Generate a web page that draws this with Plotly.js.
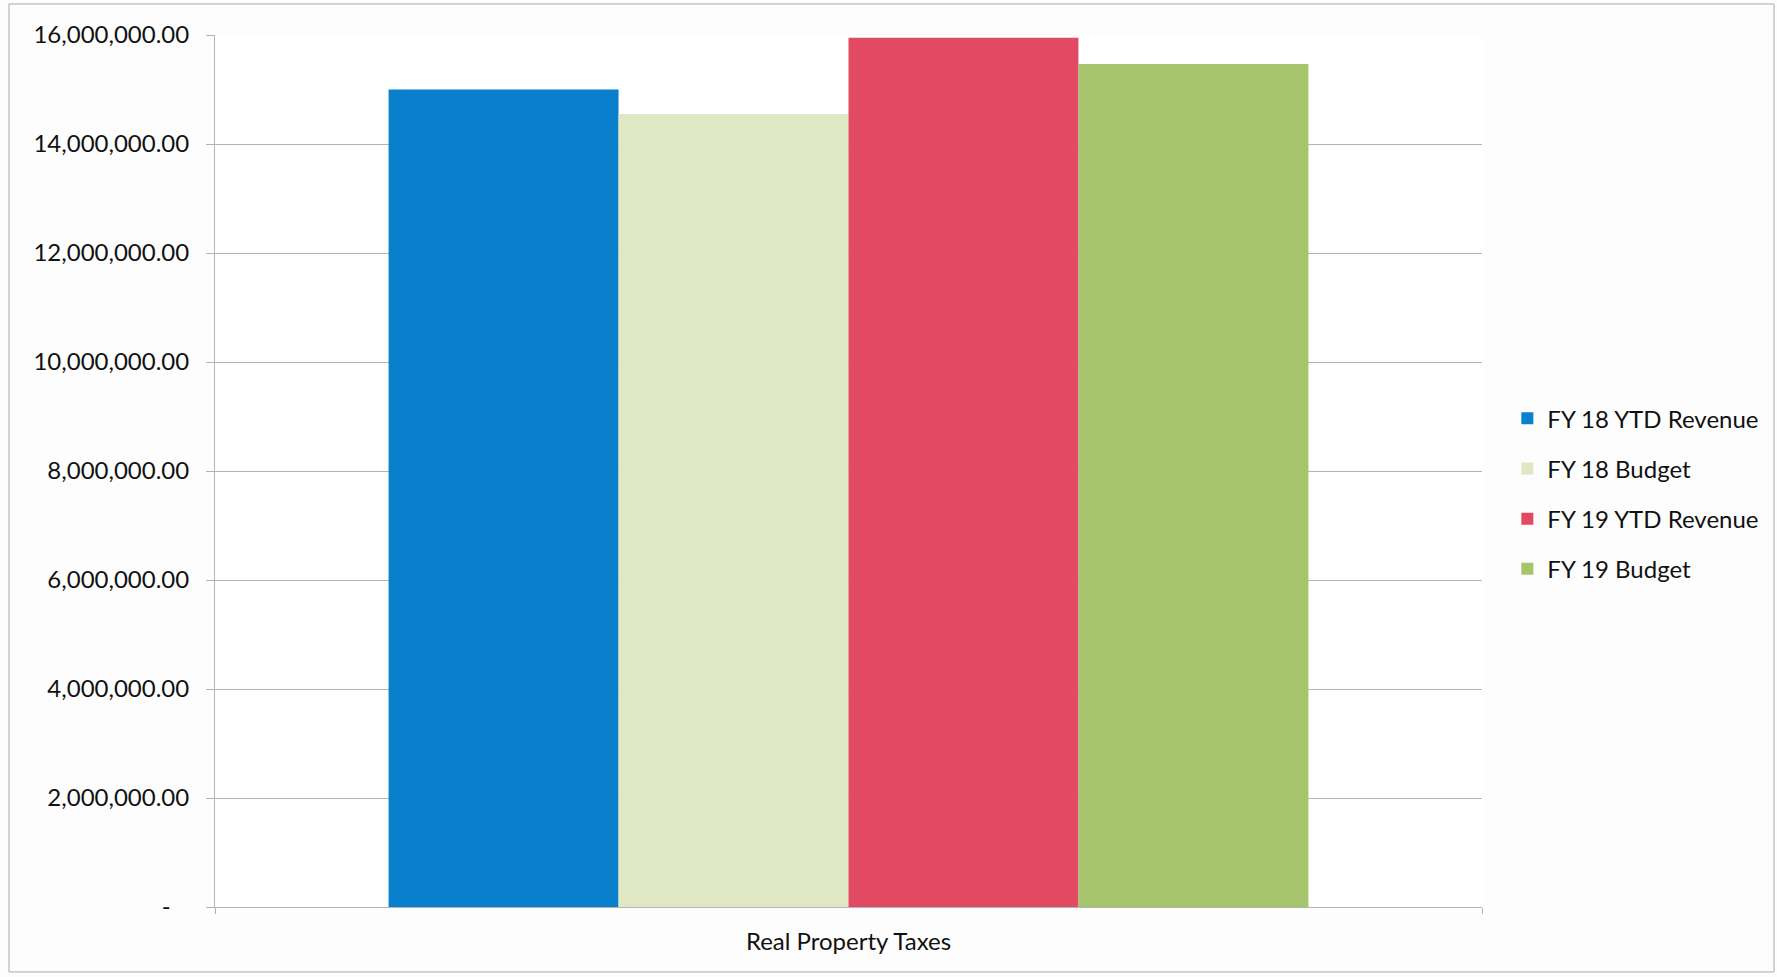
<!DOCTYPE html>
<html>
<head>
<meta charset="utf-8">
<script src="https://cdn.plot.ly/plotly-3.0.1.min.js"></script>
<style>
  html, body { margin: 0; padding: 0; background: #ffffff; }
  #chart { width: 1777px; height: 977px; }
</style>
</head>
<body>
<div id="chart"></div>
<script>
// Revenue category
const categories = ["Real Property Taxes"];

// Series names and values
const seriesNames = ["FY 18 YTD Revenue", "FY 18 Budget", "FY 19 YTD Revenue", "FY 19 Budget"];
const fy18Revenue = [15000000];
const fy18Budget = [14550000];
const fy19Revenue = [15950000];
const fy19Budget = [15470000];
const seriesColors = ["#0a7fcc", "#dfe7c3", "#e14a62", "#a6c46b"];

// Y axis ticks (accounting style, zero shown as a dash)
const yTickVals = [0, 2000000, 4000000, 6000000, 8000000, 10000000, 12000000, 14000000, 16000000];
const yTickText = ["-\u00a0\u00a0\u00a0", "2,000,000.00", "4,000,000.00", "6,000,000.00", "8,000,000.00",
                   "10,000,000.00", "12,000,000.00", "14,000,000.00", "16,000,000.00"];

const seriesValues = [fy18Revenue, fy18Budget, fy19Revenue, fy19Budget];

const font = { family: "Lato, 'Open Sans', sans-serif", size: 24, color: "#111111" };
const gridColor = "#b4b4b4";

const traces = seriesNames.map((name, i) => ({
  type: "bar",
  name: name,
  x: categories,
  y: seriesValues[i],
  legendgroup: "g" + i,
  marker: { color: seriesColors[i], line: { width: 0 } },
  hoverinfo: "name+y"
}));

const layout = {
  width: 1777,
  height: 977,
  margin: { l: 215, r: 295, t: 35, b: 70 },
  paper_bgcolor: "#fdfdfd",
  plot_bgcolor: "#ffffff",
  font: font,
  barmode: "group",
  bargap: 0.274,
  bargroupgap: 0,
  showlegend: true,
  legend: {
    x: 1.020, xanchor: "left",
    y: 0.474, yanchor: "middle",
    font: font,
    tracegroupgap: 16,
    itemwidth: 30,
    bgcolor: "rgba(0,0,0,0)"
  },
  xaxis: {
    type: "category",
    showgrid: false,
    showline: true,
    linecolor: gridColor,
    linewidth: 1,
    ticks: "outside",
    tickson: "boundaries",
    ticklen: 6,
    tickcolor: gridColor,
    tickfont: font,
    ticklabelstandoff: 13,
    fixedrange: true
  },
  yaxis: {
    range: [0, 16000000],
    tickvals: yTickVals,
    ticktext: yTickText,
    showgrid: true,
    gridcolor: gridColor,
    gridwidth: 1,
    zeroline: false,
    showline: true,
    linecolor: gridColor,
    linewidth: 1,
    ticks: "outside",
    ticklen: 8,
    tickcolor: gridColor,
    tickfont: font,
    ticklabelstandoff: 12,
    fixedrange: true
  },
  shapes: [
    {
      type: "rect", xref: "paper", yref: "paper",
      x0: -0.1626, x1: 1.2305, y0: -0.0745, y1: 1.0356,
      line: { color: "#a9a9a9", width: 1 },
      fillcolor: "rgba(0,0,0,0)",
      layer: "below"
    }
  ]
};

Plotly.newPlot("chart", traces, layout, { displayModeBar: false, staticPlot: true });
</script>
</body>
</html>
